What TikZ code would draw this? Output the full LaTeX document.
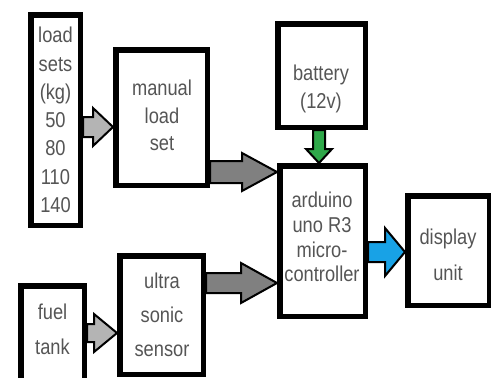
\documentclass[tikz,border=0pt]{standalone}
\usepackage{fontspec}
\setmainfont{Liberation Sans}[FakeStretch=0.85]
\usetikzlibrary{calc}
\definecolor{txt}{HTML}{555555}
\definecolor{lgrey}{HTML}{B4B4B4}
\definecolor{dgrey}{HTML}{808080}
\definecolor{agreen}{HTML}{2FA84A}
\definecolor{ablue}{HTML}{18A2E6}
\newcommand\harrow[7]{%
  \draw[blk, fill=#7] let \p1=(#1.east |- 0,#3), \p2=(#2.west |- 0,#3) in
    (\x1,\y1+#4pt) -- (\x2-#6pt,\y1+#4pt) -- (\x2-#6pt,\y1+#5pt) -- (\x2,\y1)
    -- (\x2-#6pt,\y1-#5pt) -- (\x2-#6pt,\y1-#4pt) -- (\x1,\y1-#4pt) -- cycle;}
\begin{document}
\begin{tikzpicture}[x=1pt,y=-1pt,
  box/.style={draw=black, line width=5.5pt, fill=white, inner sep=0pt},
  lbl/.style={text=txt, align=center, inner sep=0pt},
  blk/.style={draw=black, line width=2pt, line join=miter, miter limit=6}]
\clip (0,0) rectangle (491,378);
\fill[white] (0,0) rectangle (491,378);
% boxes
\node[box, minimum width=49.5pt, minimum height=210.5pt] (load) at (55.5,120) {};
\node[box, minimum width=91.5pt, minimum height=135.5pt] (manual) at (161.5,117.5) {};
\node[box, minimum width=63.5pt, minimum height=106.5pt] (fuel) at (52.5,339) {};
\node[box, minimum width=83.5pt, minimum height=118.5pt] (ultra) at (161.5,315) {};
\node[box, minimum width=87.5pt, minimum height=103.5pt] (battery) at (321.5,75.5) {};
\node[box, minimum width=85.5pt, minimum height=150.5pt] (arduino) at (322.5,241) {};
\node[box, minimum width=81.5pt, minimum height=109.5pt] (display) at (448.5,250.5) {};
% texts
\node[lbl, font=\fontsize{21.5}{28.3}\selectfont] (t-load) at (55.5,120) {load\\sets\\(kg)\\50\\80\\110\\140};
\node[lbl, font=\fontsize{21.5}{27.5}\selectfont] (t-manual) at (162,115.5) {manual\\load\\set};
\node[lbl, font=\fontsize{21.5}{35}\selectfont] (t-fuel) at (52.5,329.5) {fuel\\tank};
\node[lbl, font=\fontsize{21.5}{34}\selectfont] (t-ultra) at (162,315) {ultra\\sonic\\sensor};
\node[lbl, font=\fontsize{21.5}{28}\selectfont] (t-battery) at (321,89) {battery\\(12v)};
\node[lbl, font=\fontsize{21.5}{24.7}\selectfont] (t-arduino) at (322,237) {arduino\\uno R3\\micro-\\controller};
\node[lbl, font=\fontsize{21.5}{36}\selectfont] (t-display) at (448,255) {display\\unit};
% arrows
\harrow{load}{manual}{127}{10}{19}{20}{lgrey}
\harrow{manual}{arduino}{172}{11}{19}{35}{dgrey}
\harrow{ultra}{arduino}{283}{10}{20}{36}{dgrey}
\harrow{fuel}{ultra}{333}{9}{19}{23}{lgrey}
\harrow{arduino}{display}{252}{10}{24}{20}{ablue}
\draw[blk, fill=agreen] let \p1=(battery.south -| 319,0), \p2=(arduino.north -| 319,0) in
  (\x1-6pt,\y1) -- (\x1-6pt,\y2+14pt) -- (\x1-13pt,\y2+14pt) -- (\x1,\y2)
  -- (\x1+13pt,\y2+14pt) -- (\x1+6pt,\y2+14pt) -- (\x1+6pt,\y1) -- cycle;
\end{tikzpicture}
\end{document}
